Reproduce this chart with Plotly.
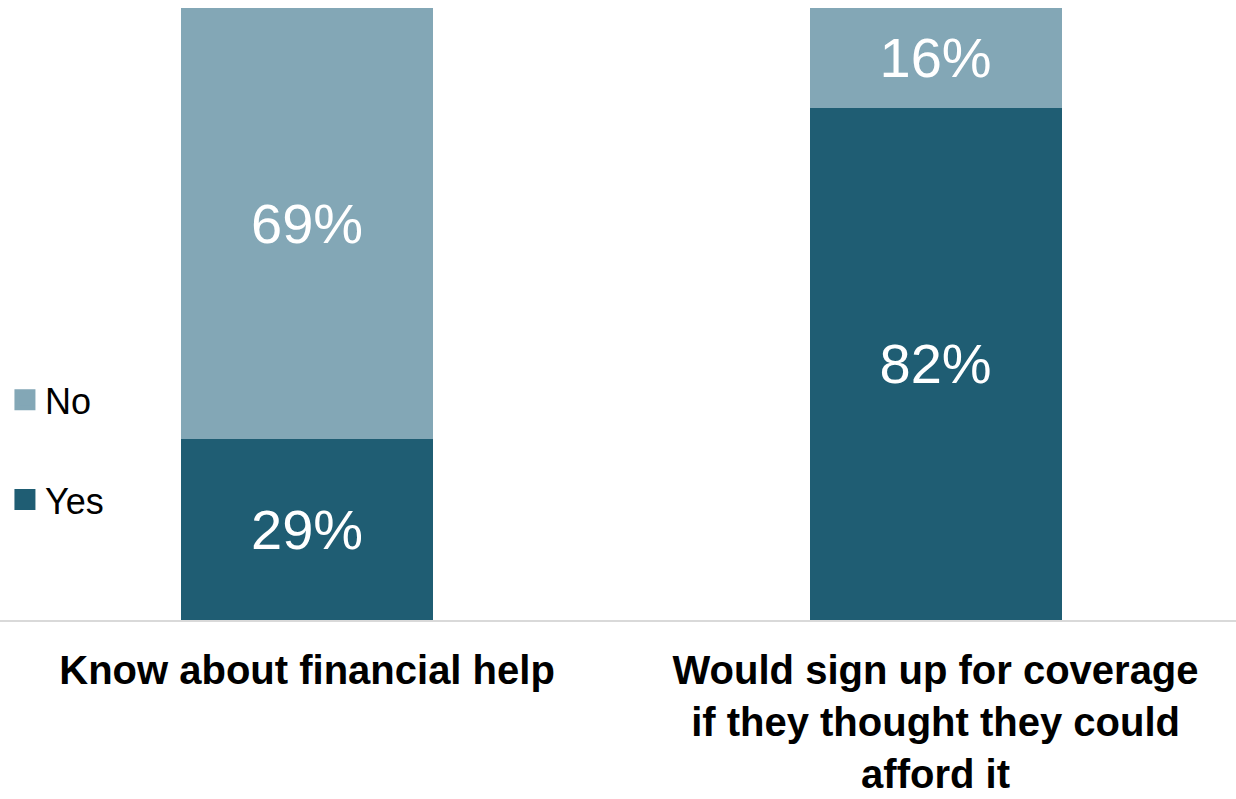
import plotly.graph_objects as go

categories = ["Know about financial help",
              "Would sign up for coverage<br>if they thought they could<br>afford it"]
yes_values = [29, 82]
no_values = [69, 16]
yes_labels = ["29%", "82%"]
no_labels = ["69%", "16%"]

dark = "#1F5D73"
light = "#83A7B6"
label_font = dict(family="Liberation Sans, Arial, sans-serif", size=56, color="white")

fig = go.Figure()
fig.add_trace(go.Bar(
    x=categories, y=yes_values, name="Yes", text=yes_labels,
    marker=dict(color=dark, line=dict(width=0)),
    textposition="inside", insidetextanchor="middle", textfont=label_font,
    width=0.401, showlegend=False,
))
fig.add_trace(go.Bar(
    x=categories, y=no_values, name="No", text=no_labels,
    marker=dict(color=light, line=dict(width=0)),
    textposition="inside", insidetextanchor="middle", textfont=label_font,
    width=0.401, showlegend=False,
))
# legend entries (square swatches)
for nm, col, grp in [("No", light, "a"), ("Yes", dark, "b")]:
    fig.add_trace(go.Scatter(
        x=[categories[0]], y=[None], mode="markers", name=nm,
        marker=dict(symbol="square", size=16, color=col, line=dict(width=5, color=col)),
        legendgroup=grp, hoverinfo="skip",
    ))

fig.update_layout(
    barmode="stack",
    width=1236, height=799,
    margin=dict(l=0, r=0, t=8, b=179),
    paper_bgcolor="white", plot_bgcolor="white",
    font=dict(family="Liberation Sans, Arial, sans-serif", color="black"),
    showlegend=True,
    legend=dict(
        x=0.004, xanchor="left", y=0.278, yanchor="middle",
        traceorder="grouped", tracegroupgap=50,
        font=dict(size=36, color="black"),
        itemwidth=30, bgcolor="rgba(0,0,0,0)",
    ),
    xaxis=dict(
        range=[-0.4885, 1.478],
        showline=True, linecolor="#D9D9D9", linewidth=2,
        ticks="", showgrid=False, zeroline=False, automargin=False,
        tickfont=dict(family="Liberation Sans, Arial, sans-serif", size=40, color="black", weight="bold"),
        ticklabelstandoff=14,
    ),
    yaxis=dict(range=[0, 98], visible=False, showgrid=False, zeroline=False, automargin=False),
)

fig.write_html("out.html")
